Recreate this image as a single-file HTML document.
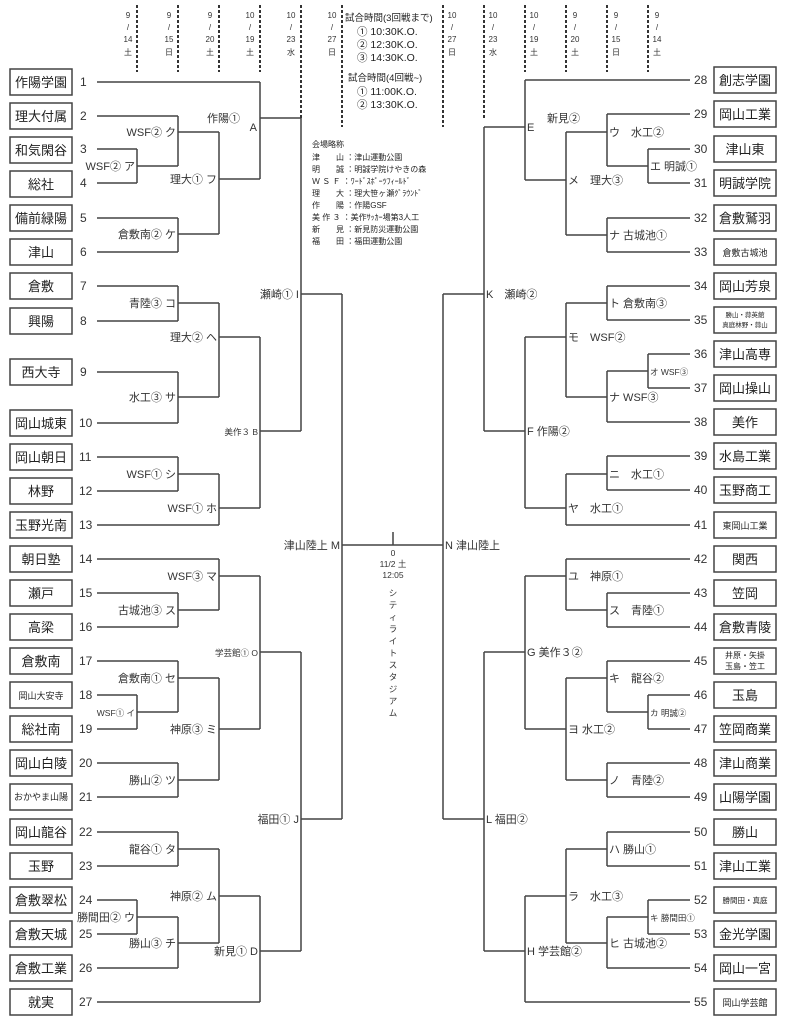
<!DOCTYPE html>
<html><head><meta charset="utf-8"><style>
html,body{margin:0;padding:0;background:#fff;}
svg{display:block;font-family:"Liberation Sans","Noto Sans CJK JP",sans-serif;}
.t{font-size:13px;fill:#222;text-anchor:middle;}
.s{font-size:9px;fill:#222;text-anchor:middle;}
.n{font-size:12px;fill:#333;}
.l{font-size:11px;fill:#333;}
.ls{font-size:8.5px;fill:#333;}
.d{font-size:8px;fill:#333;text-anchor:middle;}
.c{font-size:10.5px;fill:#222;}
.g{font-size:8px;fill:#222;}
</style></head><body>
<svg width="786" height="1024" viewBox="0 0 786 1024">
<g fill="none" stroke="#444" stroke-width="1.5">
<path d="M97 82H260M97 116H178M97 149H137M97 183H137M97 218H178M97 252H178M97 286H178M97 321H178M97 372H178M97 423H178M97 457H178M97 491H178M97 525H219M97 559H219M97 593H178M97 627H178M97 661H178M97 695H137M97 729H137M97 763H178M97 797H178M97 832H178M97 866H178M97 900H137M97 934H137M97 968H178M97 1002H260"/>
<path d="M137 149V183M137 166H178M178 116V166M178 132H219M178 218V252M178 234H219M219 132V234M219 179H260M260 82V179M260 118H301M178 286V321M178 303H219M178 372V423M178 397H219M219 303V397M219 337H260M178 457V491M178 474H219M219 474V525M219 508H260M260 337V508M260 431H301M301 118V431M301 294H342M178 593V627M178 610H219M219 559V610M219 576H260M137 695V729M137 712H178M178 661V712M178 678H219M178 763V797M178 780H219M219 678V780M219 729H260M260 576V729M260 652H301M178 832V866M178 849H219M137 900V934M137 917H178M178 917V968M178 943H219M219 849V943M219 896H260M260 896V1002M260 951H301M301 652V951M301 819H342M342 294V819M342 545H443M393 532V545"/>
<path d="M690 80H525M690 114H607M690 149H648M690 183H648M690 218H607M690 252H607M690 286H607M690 320H607M690 354H648M690 388H648M690 422H607M690 456H607M690 490H607M690 525H566M690 559H566M690 593H607M690 627H607M690 661H607M690 695H648M690 729H648M690 763H607M690 797H607M690 832H607M690 866H607M690 900H648M690 934H648M690 968H607M690 1002H525"/>
<path d="M648 149V183M648 166H607M607 114V166M607 132H566M607 218V252M607 235H566M566 132V235M566 180H525M525 80V180M525 127H484M607 286V320M607 303H566M648 354V388M648 371H607M607 371V422M607 397H566M566 303V397M566 337H525M607 456V490M607 474H566M566 474V525M566 508H525M525 337V508M525 431H484M484 127V431M484 294H443M607 593V627M607 610H566M566 559V610M566 576H525M648 695V729M648 712H607M607 661V712M607 678H566M607 763V797M607 780H566M566 678V780M566 729H525M525 576V729M525 652H484M607 832V866M607 849H566M648 900V934M648 917H607M607 917V968M607 943H566M566 849V943M566 896H525M525 896V1002M525 951H484M484 652V951M484 819H443M443 294V819"/>
</g>
<g stroke="#333" stroke-width="2" stroke-dasharray="3 2">
<path d="M137 5V72M178 5V72M219 5V72M260 5V72M301 5V120M342 5V127M443 5V127M484 5V120M525 5V72M566 5V72M607 5V72M648 5V72"/>
</g>
<g class="d">
<text x="128" y="18">9</text><text x="128" y="30">/</text><text x="128" y="42">14</text><text x="128" y="55">土</text>
<text x="169" y="18">9</text><text x="169" y="30">/</text><text x="169" y="42">15</text><text x="169" y="55">日</text>
<text x="210" y="18">9</text><text x="210" y="30">/</text><text x="210" y="42">20</text><text x="210" y="55">土</text>
<text x="250" y="18">10</text><text x="250" y="30">/</text><text x="250" y="42">19</text><text x="250" y="55">土</text>
<text x="291" y="18">10</text><text x="291" y="30">/</text><text x="291" y="42">23</text><text x="291" y="55">水</text>
<text x="332" y="18">10</text><text x="332" y="30">/</text><text x="332" y="42">27</text><text x="332" y="55">日</text>
<text x="452" y="18">10</text><text x="452" y="30">/</text><text x="452" y="42">27</text><text x="452" y="55">日</text>
<text x="493" y="18">10</text><text x="493" y="30">/</text><text x="493" y="42">23</text><text x="493" y="55">水</text>
<text x="534" y="18">10</text><text x="534" y="30">/</text><text x="534" y="42">19</text><text x="534" y="55">土</text>
<text x="575" y="18">9</text><text x="575" y="30">/</text><text x="575" y="42">20</text><text x="575" y="55">土</text>
<text x="616" y="18">9</text><text x="616" y="30">/</text><text x="616" y="42">15</text><text x="616" y="55">日</text>
<text x="657" y="18">9</text><text x="657" y="30">/</text><text x="657" y="42">14</text><text x="657" y="55">土</text>
</g>
<g class="c">
<text x="345" y="21" style="font-size:9.5px">試合時間(3回戦まで)</text>
<text x="357" y="35">① 10:30K.O.</text>
<text x="357" y="48">② 12:30K.O.</text>
<text x="357" y="61">③ 14:30K.O.</text>
<text x="348" y="81" style="font-size:9.5px">試合時間(4回戦~)</text>
<text x="357" y="95">① 11:00K.O.</text>
<text x="357" y="108">② 13:30K.O.</text>
</g>
<g class="g">
<text x="312" y="147">会場略称</text>
<text x="312" y="160">津　　山 ：津山運動公園</text>
<text x="312" y="172">明　　誠 ：明誠学院けやきの森</text>
<text x="312" y="184">Ｗ Ｓ Ｆ ：ﾜｰﾄﾞｽﾎﾟｰﾂﾌｨｰﾙﾄﾞ</text>
<text x="312" y="196">理　　大 ：理大笹ヶ瀬ｸﾞﾗｳﾝﾄﾞ</text>
<text x="312" y="208">作　　陽 ：作陽GSF</text>
<text x="312" y="220">美 作 ３ ：美作ｻｯｶｰ場第3人工</text>
<text x="312" y="232">新　　見 ：新見防災運動公園</text>
<text x="312" y="244">福　　田 ：福田運動公園</text>
</g>
<g class="d" style="font-size:8.5px">
<text x="393" y="556">0</text><text x="393" y="567">11/2 土</text><text x="393" y="578">12:05</text>
<text x="393" y="596">シ</text><text x="393" y="608">テ</text><text x="393" y="620">ィ</text><text x="393" y="632">ラ</text><text x="393" y="644">イ</text><text x="393" y="656">ト</text><text x="393" y="668">ス</text><text x="393" y="680">タ</text><text x="393" y="692">ジ</text><text x="393" y="704">ア</text><text x="393" y="716">ム</text>
</g>
<g fill="#fff" stroke="#444" stroke-width="1.5">
<rect x="10" y="69" width="62" height="26"/><rect x="10" y="103" width="62" height="26"/><rect x="10" y="137" width="62" height="26"/><rect x="10" y="171" width="62" height="26"/><rect x="10" y="205" width="62" height="26"/><rect x="10" y="239" width="62" height="26"/><rect x="10" y="273" width="62" height="26"/><rect x="10" y="308" width="62" height="26"/><rect x="10" y="359" width="62" height="26"/><rect x="10" y="410" width="62" height="26"/><rect x="10" y="444" width="62" height="26"/><rect x="10" y="478" width="62" height="26"/><rect x="10" y="512" width="62" height="26"/><rect x="10" y="546" width="62" height="26"/><rect x="10" y="580" width="62" height="26"/><rect x="10" y="614" width="62" height="26"/><rect x="10" y="648" width="62" height="26"/><rect x="10" y="682" width="62" height="26"/><rect x="10" y="716" width="62" height="26"/><rect x="10" y="750" width="62" height="26"/><rect x="10" y="784" width="62" height="26"/><rect x="10" y="819" width="62" height="26"/><rect x="10" y="853" width="62" height="26"/><rect x="10" y="887" width="62" height="26"/><rect x="10" y="921" width="62" height="26"/><rect x="10" y="955" width="62" height="26"/><rect x="10" y="989" width="62" height="26"/>
<rect x="714" y="67" width="62" height="26"/><rect x="714" y="101" width="62" height="26"/><rect x="714" y="136" width="62" height="26"/><rect x="714" y="170" width="62" height="26"/><rect x="714" y="205" width="62" height="26"/><rect x="714" y="239" width="62" height="26"/><rect x="714" y="273" width="62" height="26"/><rect x="714" y="307" width="62" height="26"/><rect x="714" y="341" width="62" height="26"/><rect x="714" y="375" width="62" height="26"/><rect x="714" y="409" width="62" height="26"/><rect x="714" y="443" width="62" height="26"/><rect x="714" y="477" width="62" height="26"/><rect x="714" y="512" width="62" height="26"/><rect x="714" y="546" width="62" height="26"/><rect x="714" y="580" width="62" height="26"/><rect x="714" y="614" width="62" height="26"/><rect x="714" y="648" width="62" height="26"/><rect x="714" y="682" width="62" height="26"/><rect x="714" y="716" width="62" height="26"/><rect x="714" y="750" width="62" height="26"/><rect x="714" y="784" width="62" height="26"/><rect x="714" y="819" width="62" height="26"/><rect x="714" y="853" width="62" height="26"/><rect x="714" y="887" width="62" height="26"/><rect x="714" y="921" width="62" height="26"/><rect x="714" y="955" width="62" height="26"/><rect x="714" y="989" width="62" height="26"/>
</g>
<g class="t">
<text x="41" y="87">作陽学園</text><text x="41" y="121">理大付属</text><text x="41" y="155">和気閑谷</text><text x="41" y="189">総社</text><text x="41" y="223">備前緑陽</text><text x="41" y="257">津山</text><text x="41" y="291">倉敷</text><text x="41" y="326">興陽</text><text x="41" y="377">西大寺</text><text x="41" y="428">岡山城東</text><text x="41" y="462">岡山朝日</text><text x="41" y="496">林野</text><text x="41" y="530">玉野光南</text><text x="41" y="564">朝日塾</text><text x="41" y="598">瀬戸</text><text x="41" y="632">高梁</text><text x="41" y="666">倉敷南</text><text x="41" y="734">総社南</text><text x="41" y="768">岡山白陵</text><text x="41" y="837">岡山龍谷</text><text x="41" y="871">玉野</text><text x="41" y="905">倉敷翠松</text><text x="41" y="939">倉敷天城</text><text x="41" y="973">倉敷工業</text><text x="41" y="1007">就実</text>
<text x="745" y="85">創志学園</text><text x="745" y="119">岡山工業</text><text x="745" y="154">津山東</text><text x="745" y="188">明誠学院</text><text x="745" y="223">倉敷鷲羽</text><text x="745" y="291">岡山芳泉</text><text x="745" y="359">津山高専</text><text x="745" y="393">岡山操山</text><text x="745" y="427">美作</text><text x="745" y="461">水島工業</text><text x="745" y="495">玉野商工</text><text x="745" y="564">関西</text><text x="745" y="598">笠岡</text><text x="745" y="632">倉敷青陵</text><text x="745" y="700">玉島</text><text x="745" y="734">笠岡商業</text><text x="745" y="768">津山商業</text><text x="745" y="802">山陽学園</text><text x="745" y="837">勝山</text><text x="745" y="871">津山工業</text><text x="745" y="939">金光学園</text><text x="745" y="973">岡山一宮</text>
</g>
<g class="s">
<text x="41" y="699">岡山大安寺</text><text x="41" y="800">おかやま山陽</text>
<text x="745" y="256">倉敷古城池</text><text x="745" y="529">東岡山工業</text><text x="745" y="1006">岡山学芸館</text><text x="745" y="903" style="font-size:7.5px">勝間田・真庭</text>
<text x="745" y="658" style="font-size:8px">井原・矢掛</text><text x="745" y="669" style="font-size:8px">玉島・笠工</text>
<text x="745" y="317" style="font-size:6.5px">勝山・蒜英館</text><text x="745" y="327" style="font-size:6.5px">真庭林野・蒜山</text>
</g>
<g class="n">
<text x="80" y="86">1</text><text x="80" y="120">2</text><text x="80" y="153">3</text><text x="80" y="187">4</text><text x="80" y="222">5</text><text x="80" y="256">6</text><text x="80" y="290">7</text><text x="80" y="325">8</text><text x="80" y="376">9</text><text x="79" y="427">10</text><text x="79" y="461">11</text><text x="79" y="495">12</text><text x="79" y="529">13</text><text x="79" y="563">14</text><text x="79" y="597">15</text><text x="79" y="631">16</text><text x="79" y="665">17</text><text x="79" y="699">18</text><text x="79" y="733">19</text><text x="79" y="767">20</text><text x="79" y="801">21</text><text x="79" y="836">22</text><text x="79" y="870">23</text><text x="79" y="904">24</text><text x="79" y="938">25</text><text x="79" y="972">26</text><text x="79" y="1006">27</text>
<text x="694" y="84">28</text><text x="694" y="118">29</text><text x="694" y="153">30</text><text x="694" y="187">31</text><text x="694" y="222">32</text><text x="694" y="256">33</text><text x="694" y="290">34</text><text x="694" y="324">35</text><text x="694" y="358">36</text><text x="694" y="392">37</text><text x="694" y="426">38</text><text x="694" y="460">39</text><text x="694" y="494">40</text><text x="694" y="529">41</text><text x="694" y="563">42</text><text x="694" y="597">43</text><text x="694" y="631">44</text><text x="694" y="665">45</text><text x="694" y="699">46</text><text x="694" y="733">47</text><text x="694" y="767">48</text><text x="694" y="801">49</text><text x="694" y="836">50</text><text x="694" y="870">51</text><text x="694" y="904">52</text><text x="694" y="938">53</text><text x="694" y="972">54</text><text x="694" y="1006">55</text>
</g>
<g class="l" text-anchor="end">
<text x="135" y="170">WSF② ア</text><text x="176" y="136">WSF② ク</text><text x="176" y="238">倉敷南② ケ</text><text x="217" y="183">理大① フ</text><text x="240" y="122">作陽①</text><text x="257" y="131">A</text>
<text x="176" y="307">青陸③ コ</text><text x="176" y="401">水工③ サ</text><text x="217" y="341">理大② ヘ</text><text x="176" y="478">WSF① シ</text><text x="217" y="512">WSF① ホ</text><text x="299" y="298">瀬崎① I</text>
<text x="176" y="614">古城池③ ス</text><text x="217" y="580">WSF③ マ</text><text x="176" y="682">倉敷南① セ</text><text x="176" y="784">勝山② ツ</text><text x="217" y="733">神原③ ミ</text>
<text x="176" y="853">龍谷① タ</text><text x="135" y="921">勝間田② ウ</text><text x="176" y="947">勝山③ チ</text><text x="217" y="900">神原② ム</text><text x="258" y="955">新見① D</text><text x="299" y="823">福田① J</text><text x="340" y="549">津山陸上 M</text>
</g>
<g class="ls" text-anchor="end">
<text x="258" y="435">美作３ B</text><text x="135" y="716">WSF① イ</text><text x="258" y="656">学芸館① O</text>
</g>
<g class="l">
<text x="650" y="170">エ 明誠①</text><text x="609" y="136">ウ　水工②</text><text x="609" y="239">ナ 古城池①</text><text x="568" y="184">メ　理大③</text><text x="527" y="131">E</text><text x="547" y="122">新見②</text>
<text x="609" y="307">ト 倉敷南③</text><text x="609" y="401">ナ WSF③</text><text x="568" y="341">モ　WSF②</text><text x="609" y="478">ニ　水工①</text><text x="568" y="512">ヤ　水工①</text><text x="527" y="435">F 作陽②</text><text x="486" y="298">K　瀬崎②</text>
<text x="568" y="580">ユ　神原①</text><text x="609" y="614">ス　青陸①</text><text x="609" y="682">キ　龍谷②</text><text x="609" y="784">ノ　青陸②</text><text x="568" y="733">ヨ 水工②</text><text x="527" y="656">G 美作３②</text>
<text x="609" y="853">ハ 勝山①</text><text x="609" y="947">ヒ 古城池②</text><text x="568" y="900">ラ　水工③</text><text x="527" y="955">H 学芸館②</text><text x="486" y="823">L 福田②</text><text x="445" y="549">N 津山陸上</text>
</g>
<g class="ls">
<text x="650" y="375">オ WSF③</text><text x="650" y="716">カ 明誠②</text><text x="650" y="921">キ 勝間田①</text>
</g>
</svg>
</body></html>
